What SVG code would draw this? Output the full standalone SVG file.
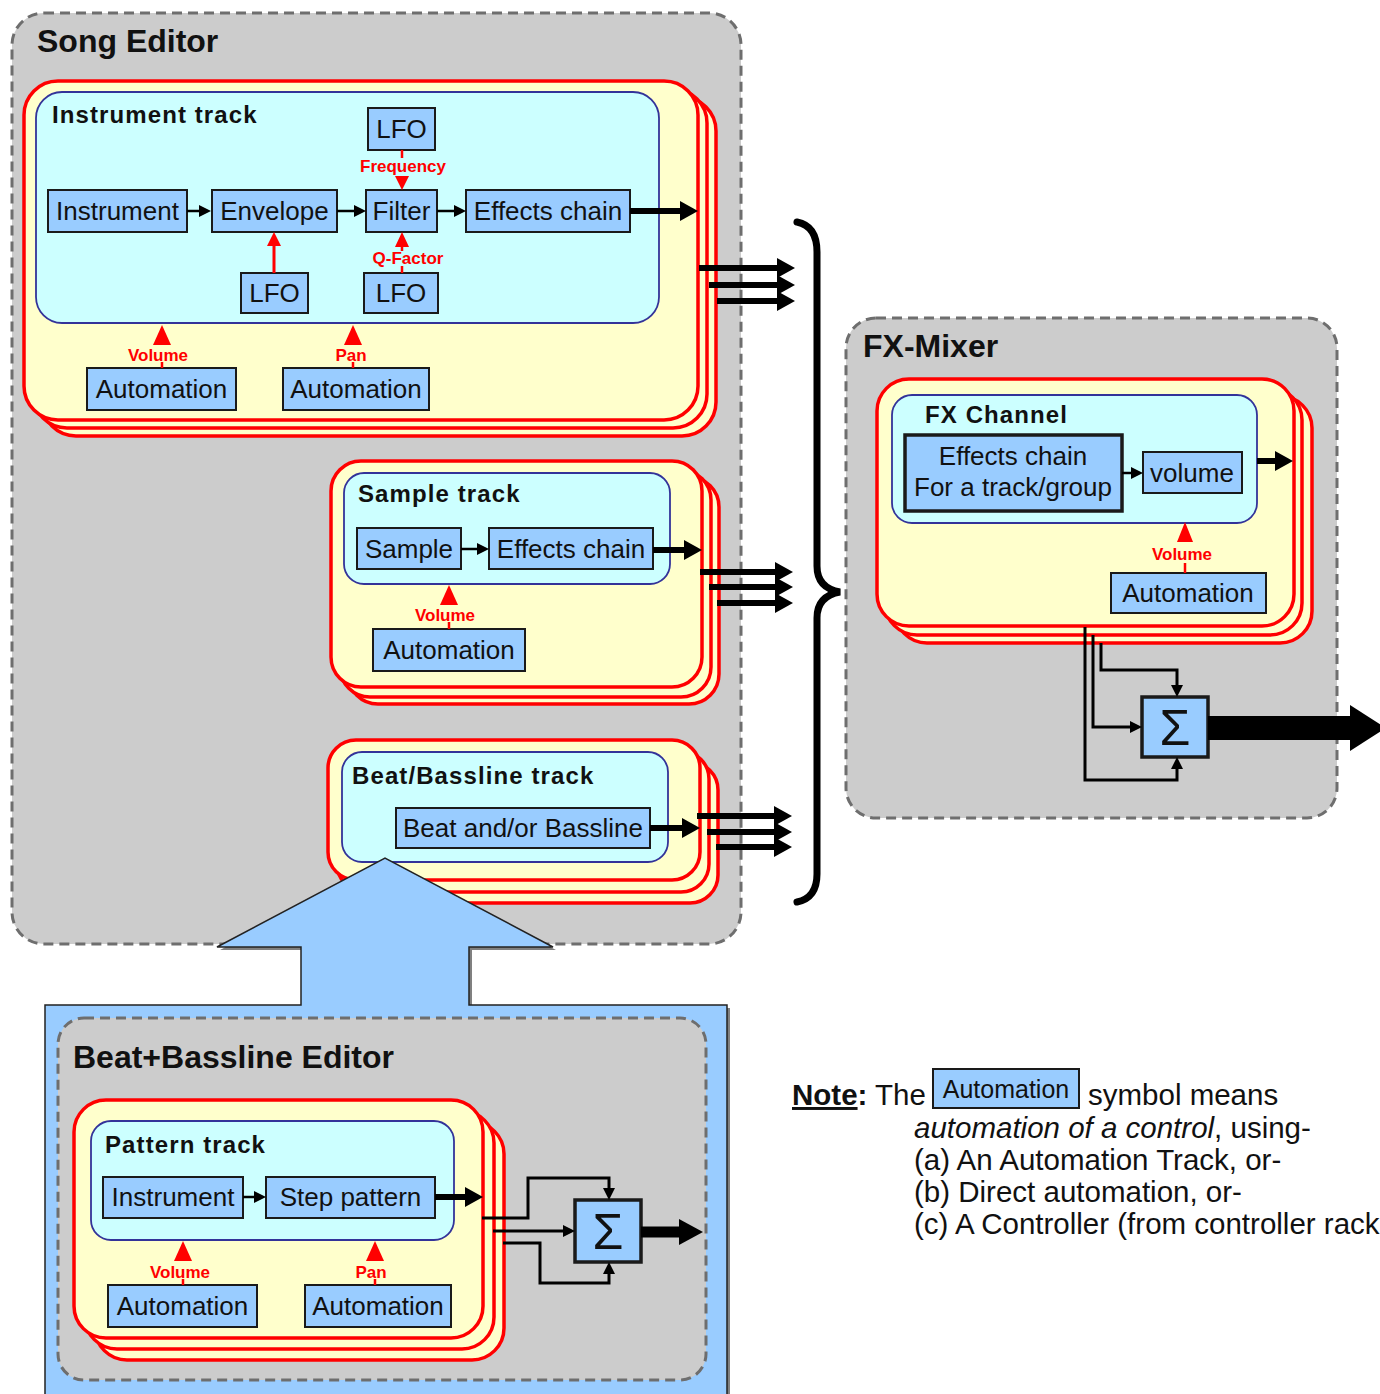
<svg xmlns="http://www.w3.org/2000/svg" width="1380" height="1394" viewBox="0 0 1380 1394">
<style>
text{font-family:"Liberation Sans",Arial,sans-serif;fill:#111}
.area{fill:#cccccc;stroke:#6e6e6e;stroke-width:3;stroke-dasharray:10 6}
.title{font-size:32px;font-weight:bold}
.card{fill:#ffffcc;stroke:#ff0000;stroke-width:3.5}
.inner{fill:#ccffff;stroke:#333399;stroke-width:1.8}
.sub{font-size:24px;font-weight:bold;letter-spacing:1.1px}
.box{fill:#99ccff;stroke:#1a1a1a;stroke-width:2}
.lbl{font-size:26px;text-anchor:middle}
.rl{font-size:17px;font-weight:bold;fill:#ff0000;text-anchor:middle}
.rline{stroke:#ff0000;stroke-width:2.5;fill:none}
.rh{fill:#ff0000}
.ln{stroke:#000;stroke-width:2.5;fill:none;marker-end:url(#ms)}
.thk{stroke:#000;stroke-width:6;fill:none;marker-end:url(#mt)}
.note{font-size:29.5px}
</style>
<defs>
<marker id="ms" viewBox="0 0 12 12" markerWidth="12" markerHeight="12" refX="2" refY="6" orient="auto" markerUnits="userSpaceOnUse"><path d="M0,0 L12,6 L0,12 z" fill="#000"/></marker>
<marker id="mt" viewBox="0 0 18 20" markerWidth="18" markerHeight="20" refX="2" refY="10" orient="auto" markerUnits="userSpaceOnUse"><path d="M0,0 L18,10 L0,20 z" fill="#000"/></marker>
</defs>

<!-- Song Editor -->
<g id="song-editor">
<rect class="area" x="12" y="13" width="729" height="931" rx="32"/>
<text class="title" x="37" y="52">Song Editor</text>
</g>

<!-- Instrument track -->
<g id="instrument-track">
<rect class="card" x="42" y="97" width="674" height="339" rx="34"/>
<rect class="card" x="33" y="89" width="674" height="339" rx="34"/>
<rect class="card" x="24" y="81" width="674" height="339" rx="34"/>
<rect class="inner" x="36" y="92" width="623" height="231" rx="26"/>
<text class="sub" x="52" y="123">Instrument track</text>
<g id="it-lfo-top"><rect class="box" x="368" y="108" width="67" height="42"/><text class="lbl" x="401.5" y="138">LFO</text></g>
<g id="it-instrument"><rect class="box" x="48" y="190" width="139" height="42"/><text class="lbl" x="117.5" y="220">Instrument</text></g>
<g id="it-envelope"><rect class="box" x="212" y="190" width="125" height="42"/><text class="lbl" x="274.5" y="220">Envelope</text></g>
<g id="it-filter"><rect class="box" x="366" y="190" width="71" height="42"/><text class="lbl" x="401.5" y="220">Filter</text></g>
<g id="it-effects"><rect class="box" x="466" y="190" width="164" height="42"/><text class="lbl" x="548" y="220">Effects chain</text></g>
<g id="it-lfo-env"><rect class="box" x="241" y="273" width="67" height="40"/><text class="lbl" x="274.5" y="302">LFO</text></g>
<g id="it-lfo-q"><rect class="box" x="364" y="273" width="74" height="40"/><text class="lbl" x="401" y="302">LFO</text></g>
<g id="it-auto-vol"><rect class="box" x="87" y="368" width="149" height="42"/><text class="lbl" x="161.5" y="398">Automation</text></g>
<g id="it-auto-pan"><rect class="box" x="283" y="368" width="146" height="42"/><text class="lbl" x="356" y="398">Automation</text></g>
</g>

<!-- Sample track -->
<g id="sample-track">
<rect class="card" x="348" y="477" width="371" height="227" rx="30"/>
<rect class="card" x="340" y="470" width="371" height="227" rx="30"/>
<rect class="card" x="331" y="461" width="371" height="226" rx="30"/>
<rect class="inner" x="344" y="473" width="326" height="111" rx="20"/>
<text class="sub" x="358" y="502">Sample track</text>
<g id="st-sample"><rect class="box" x="357" y="528" width="104" height="41"/><text class="lbl" x="409" y="558">Sample</text></g>
<g id="st-effects"><rect class="box" x="489" y="528" width="164" height="41"/><text class="lbl" x="571" y="558">Effects chain</text></g>
<g id="st-auto"><rect class="box" x="373" y="629" width="152" height="42"/><text class="lbl" x="449" y="659">Automation</text></g>
</g>

<!-- Beat/Bassline track -->
<g id="bb-track">
<rect class="card" x="346" y="762" width="372" height="141" rx="28"/>
<rect class="card" x="337" y="751" width="372" height="141" rx="28"/>
<rect class="card" x="328" y="740" width="372" height="140" rx="28"/>
<rect class="inner" x="342" y="752" width="326" height="110" rx="20"/>
<text class="sub" x="352" y="784">Beat/Bassline track</text>
<g id="bb-box"><rect class="box" x="396" y="808" width="254" height="40"/><text class="lbl" x="523" y="837">Beat and/or Bassline</text></g>
</g>

<!-- FX-Mixer -->
<g id="fx-mixer">
<rect class="area" x="846" y="318" width="491" height="500" rx="30"/>
<text class="title" x="863" y="357">FX-Mixer</text>
</g>
<g id="fx-channel">
<rect class="card" x="895" y="396" width="417" height="247" rx="32"/>
<rect class="card" x="885" y="388" width="417" height="247" rx="32"/>
<rect class="card" x="877" y="379" width="417" height="247" rx="32"/>
<rect class="inner" x="892" y="395" width="365" height="128" rx="20"/>
<text class="sub" x="925" y="423">FX Channel</text>
<g id="fx-effects"><rect class="box" x="905" y="435" width="217" height="76" style="stroke-width:3.5"/><text class="lbl" x="1013" y="465">Effects chain</text><text class="lbl" x="1013" y="496">For a track/group</text></g>
<g id="fx-volume"><rect class="box" x="1143" y="452" width="99" height="41"/><text class="lbl" x="1192" y="482">volume</text></g>
<g id="fx-auto"><rect class="box" x="1111" y="573" width="155" height="40"/><text class="lbl" x="1188" y="602">Automation</text></g>
</g>
<g id="fx-sum"><rect class="box" x="1142" y="697" width="66" height="60" style="stroke-width:3.5"/><text x="1175" y="745" style="font-size:50px;text-anchor:middle">Σ</text></g>

<!-- Beat+Bassline Editor -->
<g id="bb-editor">
<path d="M48,1008 H304 V950 H220 L388,861 L556,950 H472 V1008 H730 V1400 H48 Z" fill="#808080"/>
<path d="M45,1005 H301 V947 H217 L385,858 L553,947 H469 V1005 H727 V1400 H45 Z" fill="#99ccff" stroke="#222" stroke-width="1.5"/>
<rect class="area" x="58" y="1018" width="648" height="362" rx="26"/>
<text class="title" x="73" y="1068">Beat+Bassline Editor</text>
</g>
<g id="pattern-track">
<rect class="card" x="95" y="1122" width="409" height="238" rx="32"/>
<rect class="card" x="85" y="1111" width="409" height="238" rx="32"/>
<rect class="card" x="74" y="1100" width="409" height="238" rx="32"/>
<rect class="inner" x="91" y="1121" width="363" height="119" rx="20"/>
<text class="sub" x="105" y="1153">Pattern track</text>
<g id="pt-instrument"><rect class="box" x="103" y="1177" width="140" height="41"/><text class="lbl" x="173" y="1206">Instrument</text></g>
<g id="pt-step"><rect class="box" x="266" y="1177" width="169" height="41"/><text class="lbl" x="350.5" y="1206">Step pattern</text></g>
<g id="pt-auto-vol"><rect class="box" x="108" y="1285" width="149" height="42"/><text class="lbl" x="182.5" y="1315">Automation</text></g>
<g id="pt-auto-pan"><rect class="box" x="305" y="1285" width="146" height="42"/><text class="lbl" x="378" y="1315">Automation</text></g>
</g>
<g id="pt-sum"><rect class="box" x="575" y="1200" width="66" height="62" style="stroke-width:3.5"/><text x="608" y="1249" style="font-size:50px;text-anchor:middle">Σ</text></g>

<!-- Brace -->
<g id="brace">
<path d="M797,222 Q817,226 817,252 L817,566 Q817,588 840,592 Q817,596 817,618 L817,874 Q817,898 797,902" fill="none" stroke="#000" stroke-width="7" stroke-linecap="round"/>
</g>

<!-- Connectors -->
<g id="connectors">
<line class="ln" x1="187" y1="211" x2="201" y2="211"/>
<line class="ln" x1="337" y1="211" x2="356" y2="211"/>
<line class="ln" x1="437" y1="211" x2="456" y2="211"/>
<line class="thk" x1="630" y1="211" x2="682" y2="211"/>
<line class="rline" x1="402" y1="150" x2="402" y2="158"/>
<polygon class="rh" points="395,176 409,176 402,190"/>
<text class="rl" x="403" y="172">Frequency</text>
<line class="rline" x1="402" y1="247" x2="402" y2="251"/>
<polygon class="rh" points="395,247 409,247 402,232"/>
<line class="rline" x1="402" y1="266" x2="402" y2="273"/>
<text class="rl" x="408" y="264">Q-Factor</text>
<line class="rline" x1="274" y1="273" x2="274" y2="245" style="stroke-width:3"/>
<polygon class="rh" points="267,246 281,246 274,232"/>
<polygon class="rh" points="153,345 171,345 162,325"/>
<line class="rline" x1="162" y1="362" x2="162" y2="368"/>
<text class="rl" x="158" y="361">Volume</text>
<polygon class="rh" points="344,345 362,345 353,325"/>
<line class="rline" x1="353" y1="362" x2="353" y2="368"/>
<text class="rl" x="351" y="361">Pan</text>
<line class="thk" x1="699" y1="268" x2="779" y2="268"/>
<line class="thk" x1="709" y1="285" x2="779" y2="285"/>
<line class="thk" x1="717" y1="301" x2="779" y2="301"/>
<line class="ln" x1="461" y1="549" x2="479" y2="549"/>
<line class="thk" x1="653" y1="550" x2="686" y2="550"/>
<polygon class="rh" points="440,605 458,605 449,585"/>
<line class="rline" x1="449" y1="622" x2="449" y2="629"/>
<text class="rl" x="445" y="621">Volume</text>
<line class="thk" x1="700" y1="572" x2="777" y2="572"/>
<line class="thk" x1="709" y1="587" x2="777" y2="587"/>
<line class="thk" x1="717" y1="603" x2="777" y2="603"/>
<line class="thk" x1="650" y1="828" x2="684" y2="828"/>
<line class="thk" x1="697" y1="816" x2="776" y2="816"/>
<line class="thk" x1="707" y1="832" x2="776" y2="832"/>
<line class="thk" x1="716" y1="847" x2="776" y2="847"/>
<line class="ln" x1="1122" y1="473" x2="1133" y2="473"/>
<line class="thk" x1="1257" y1="461" x2="1277" y2="461"/>
<polygon class="rh" points="1177,542 1193,542 1185,522"/>
<line class="rline" x1="1185" y1="563" x2="1185" y2="573"/>
<text class="rl" x="1182" y="560">Volume</text>
<polyline class="ln" style="stroke-width:3" points="1085,627 1085,780 1177,780 1177,767"/>
<polyline class="ln" style="stroke-width:3" points="1093,635 1093,727 1132,727"/>
<polyline class="ln" style="stroke-width:3" points="1101,643 1101,670 1177,670 1177,687"/>
<rect x="1208" y="716" width="144" height="24" fill="#000"/>
<polygon points="1350,705 1386,728 1350,751" fill="#000"/>
<line class="ln" x1="243" y1="1197" x2="256" y2="1197"/>
<line class="thk" x1="435" y1="1197" x2="467" y2="1197"/>
<polygon class="rh" points="174,1261 192,1261 183,1241"/>
<line class="rline" x1="183" y1="1279" x2="183" y2="1285"/>
<text class="rl" x="180" y="1278">Volume</text>
<polygon class="rh" points="366,1261 384,1261 375,1241"/>
<line class="rline" x1="375" y1="1279" x2="375" y2="1285"/>
<text class="rl" x="371" y="1278">Pan</text>
<polyline class="ln" style="stroke-width:3" points="482,1218 528,1218 528,1178 609,1178 609,1190"/>
<polyline class="ln" style="stroke-width:3" points="493,1231 565,1231"/>
<polyline class="ln" style="stroke-width:3" points="503,1243 540,1243 540,1283 609,1283 609,1272"/>
<line x1="641" y1="1232" x2="682" y2="1232" stroke="#000" stroke-width="11"/>
<polygon points="679,1219 703,1232 679,1245" fill="#000"/>
</g>

<!-- Note -->
<g id="note">
<text class="note" x="792" y="1105"><tspan font-weight="bold" text-decoration="underline">Note</tspan><tspan font-weight="bold">:</tspan> The</text>
<rect class="box" x="933" y="1069" width="146" height="39"/>
<text x="1006" y="1098" style="font-size:25px;text-anchor:middle">Automation</text>
<text class="note" x="1088" y="1105">symbol means</text>
<text class="note" x="914" y="1138"><tspan font-style="italic">automation of a control</tspan>, using-</text>
<text class="note" x="914" y="1170">(a) An Automation Track, or-</text>
<text class="note" x="914" y="1202">(b) Direct automation, or-</text>
<text class="note" x="914" y="1234">(c) A Controller (from controller rack</text>
</g>
</svg>
